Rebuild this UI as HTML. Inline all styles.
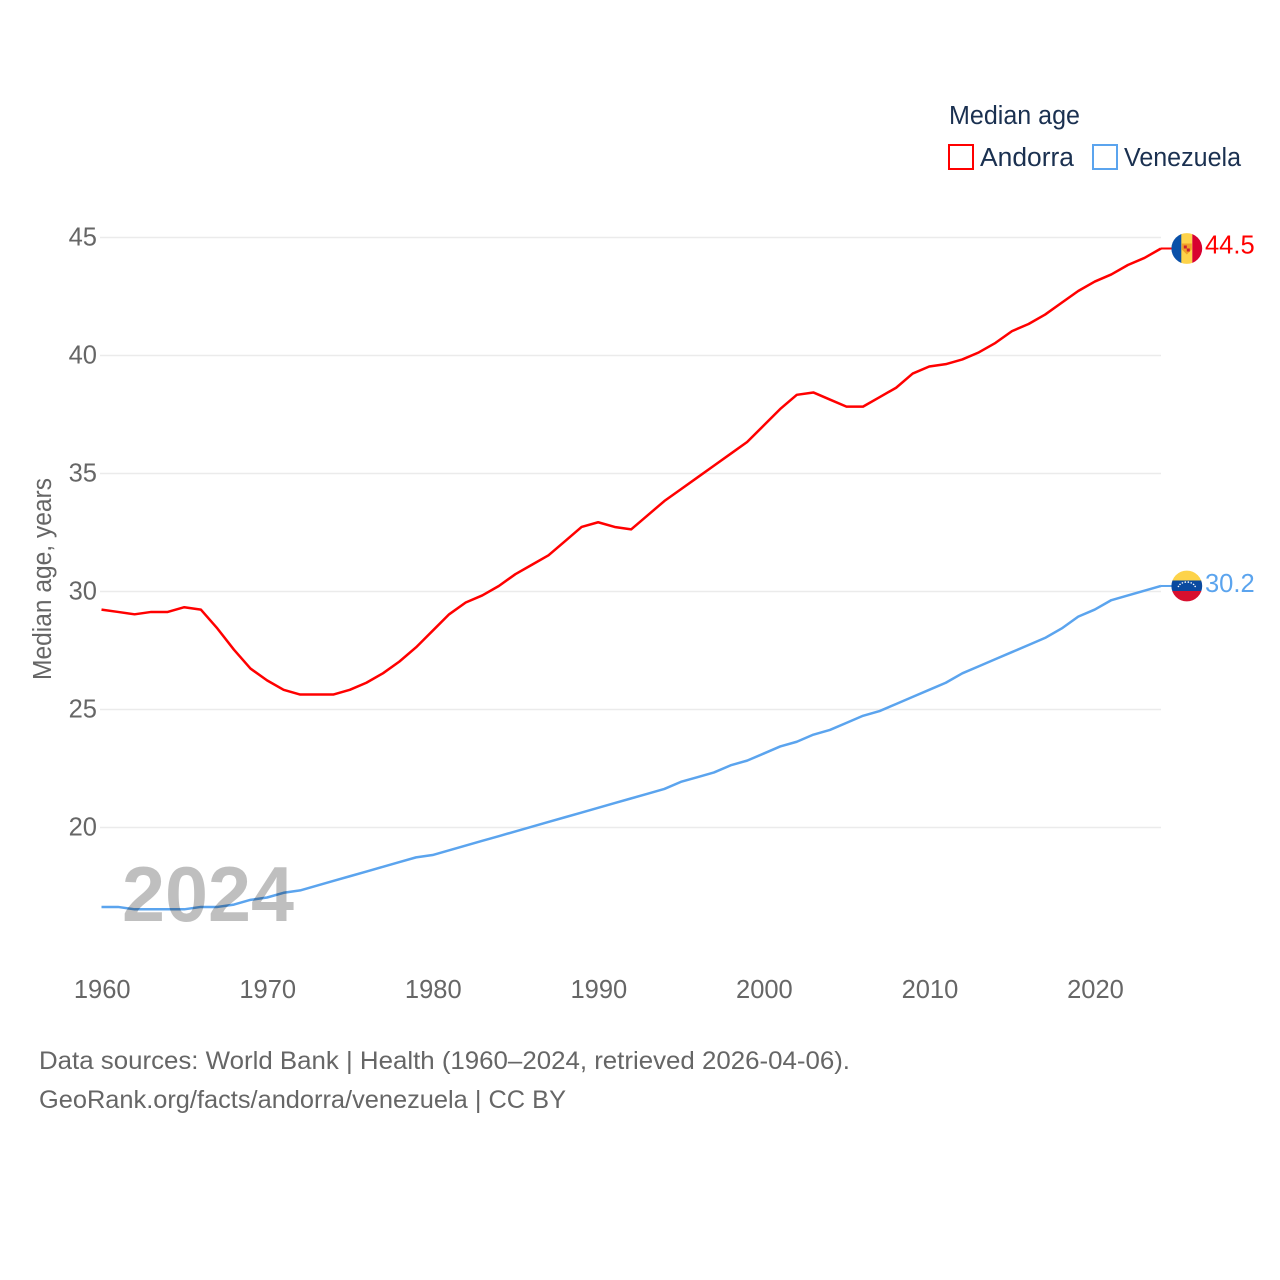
<!DOCTYPE html>
<html lang="en">
<head>
<meta charset="utf-8">
<title>Median age: Andorra and Venezuela</title>
<style>
html,body{margin:0;padding:0;background:#fff;}
svg{display:block;}
text{font-family:"Liberation Sans",sans-serif;}
.tick{font-size:25.5px;fill:#666;}
.foot{font-size:25px;fill:#666;}
.leg{font-size:25.5px;fill:#1a3050;}
</style>
</head>
<body>
<svg id="chart" xmlns="http://www.w3.org/2000/svg" width="1280" height="1280" viewBox="0 0 1280 1280">
  <defs>
    <clipPath id="clip-ad"><circle id="clip-ad-c" r="15.4"></circle></clipPath>
    <clipPath id="clip-ve"><circle id="clip-ve-c" r="15.4"></circle></clipPath>
  </defs>
  <g id="grid"></g>
  <g id="yticks"></g>
  <g id="xticks"></g>
  <text class="tick" transform="translate(51,680) rotate(-90)" textLength="202" lengthAdjust="spacingAndGlyphs">Median age, years</text>
  <g id="series"></g>
  <text x="122" y="921" font-size="78" font-weight="700" fill="#000" fill-opacity="0.25" textLength="172" lengthAdjust="spacingAndGlyphs">2024</text>

  <g id="flag-ad" clip-path="url(#clip-ad)"></g>
  <g id="flag-ve" clip-path="url(#clip-ve)"></g>
  <g id="end-labels"></g>

  <g>
    <text class="leg" x="949" y="124" textLength="131" lengthAdjust="spacingAndGlyphs">Median age</text>
    <rect x="949" y="145" width="24" height="24" fill="#fff" stroke="#ff0000" stroke-width="2"></rect>
    <text class="leg" x="980" y="166" textLength="94" lengthAdjust="spacingAndGlyphs">Andorra</text>
    <rect x="1093" y="145" width="24" height="24" fill="#fff" stroke="#5ba4ee" stroke-width="2"></rect>
    <text class="leg" x="1124" y="166" textLength="117" lengthAdjust="spacingAndGlyphs">Venezuela</text>
  </g>

  <text class="foot" x="39" y="1069" textLength="811" lengthAdjust="spacingAndGlyphs">Data sources: World Bank | Health (1960–2024, retrieved 2026-04-06).</text>
  <text class="foot" x="39" y="1108" textLength="527" lengthAdjust="spacingAndGlyphs">GeoRank.org/facts/andorra/venezuela | CC BY</text>
</svg>
<script>
const startYear = 1960;
const yTickValues = [20, 25, 30, 35, 40, 45];
const xTickValues = [1960, 1970, 1980, 1990, 2000, 2010, 2020];
const andorraValues = [29.2,29.1,29.0,29.1,29.1,29.3,29.2,28.4,27.5,26.7,26.2,25.8,25.6,25.6,25.6,25.8,26.1,26.5,27.0,27.6,28.3,29.0,29.5,29.8,30.2,30.7,31.1,31.5,32.1,32.7,32.9,32.7,32.6,33.2,33.8,34.3,34.8,35.3,35.8,36.3,37.0,37.7,38.3,38.4,38.1,37.8,37.8,38.2,38.6,39.2,39.5,39.6,39.8,40.1,40.5,41.0,41.3,41.7,42.2,42.7,43.1,43.4,43.8,44.1,44.5];
const venezuelaValues = [16.6,16.6,16.5,16.5,16.5,16.5,16.6,16.6,16.7,16.9,17.0,17.2,17.3,17.5,17.7,17.9,18.1,18.3,18.5,18.7,18.8,19.0,19.2,19.4,19.6,19.8,20.0,20.2,20.4,20.6,20.8,21.0,21.2,21.4,21.6,21.9,22.1,22.3,22.6,22.8,23.1,23.4,23.6,23.9,24.1,24.4,24.7,24.9,25.2,25.5,25.8,26.1,26.5,26.8,27.1,27.4,27.7,28.0,28.4,28.9,29.2,29.6,29.8,30.0,30.2];

const NS = 'http://www.w3.org/2000/svg';
function xScale(year) { return 101.5 + (year - 1960) * (1161 - 101.5) / 64; }
function gridY(v) { return 827.5 - (v - 20) * 23.6; }
function yScale(v) { return gridY(v) - 0.8; }
function make(tag, attrs, parent, text) {
  const el = document.createElementNS(NS, tag);
  for (const k in attrs) el.setAttribute(k, attrs[k]);
  if (text !== undefined) el.textContent = text;
  parent.appendChild(el);
  return el;
}

const grid = document.getElementById('grid');
const yt = document.getElementById('yticks');
yTickValues.forEach(function (v) {
  const line = make('line', {x1: 100, x2: 1161, y1: gridY(v), y2: gridY(v), stroke: '#ebebeb', 'stroke-width': 1.5}, grid);
  
  
  const t = make('text', {class: 'tick', x: 97, y: gridY(v) + 8, 'text-anchor': 'end'}, yt, String(v));
  
  
});

const xt = document.getElementById('xticks');
xTickValues.forEach(function (yr) {
  const t = make('text', {class: 'tick', x: xScale(yr) + 0.7, y: 998, 'text-anchor': 'middle'}, xt, String(yr));
  
  
});

function pathFor(values) {
  return values.map(function (v, i) {
    return (i ? 'L' : 'M') + xScale(startYear + i).toFixed(2) + ' ' + yScale(v).toFixed(2);
  }).join('');
}
const series = document.getElementById('series');
const lineAd = make('path', {d: pathFor(andorraValues), fill: 'none', stroke: '#ff0000', 'stroke-width': 2.5, 'stroke-linejoin': 'round'}, series);


const lineVe = make('path', {d: pathFor(venezuelaValues), fill: 'none', stroke: '#5ba4ee', 'stroke-width': 2.5, 'stroke-linejoin': 'round'}, series);



const lastAd = andorraValues[andorraValues.length - 1];
const lastVe = venezuelaValues[venezuelaValues.length - 1];
const flagX = 1186.8;
const adY = yScale(lastAd);
const veY = yScale(lastVe);
const extAd = make('line', {x1: 1161, x2: 1172, y1: adY, y2: adY, stroke: '#ff0000', 'stroke-width': 2}, series);


const extVe = make('line', {x1: 1161, x2: 1172, y1: veY, y2: veY, stroke: '#5ba4ee', 'stroke-width': 2}, series);



const cAd = document.getElementById('clip-ad-c');
cAd.setAttribute('cx', flagX);
cAd.setAttribute('cy', adY);
const cVe = document.getElementById('clip-ve-c');
cVe.setAttribute('cx', flagX);
cVe.setAttribute('cy', veY);

const fa = document.getElementById('flag-ad');
make('rect', {x: flagX - 16, y: adY - 16, width: 11, height: 32, fill: '#0a50a8'}, fa);
make('rect', {x: flagX - 5.5, y: adY - 16, width: 11, height: 32, fill: '#fed34a'}, fa);
make('rect', {x: flagX + 5.5, y: adY - 16, width: 11, height: 32, fill: '#d8002f'}, fa);
make('path', {d: 'M' + (flagX - 5) + ' ' + (adY - 5) + 'h10v6l-5 5l-5-5z', fill: '#f0a028'}, fa);
make('rect', {x: flagX - 3, y: adY - 3, width: 3, height: 3, fill: '#c8202f'}, fa);
make('rect', {x: flagX, y: adY, width: 3, height: 3, fill: '#c8202f'}, fa);

const fv = document.getElementById('flag-ve');
make('rect', {x: flagX - 16, y: veY - 16, width: 32, height: 11, fill: '#fdd34a'}, fv);
make('rect', {x: flagX - 16, y: veY - 5.5, width: 32, height: 11, fill: '#0a4aa0'}, fv);
make('rect', {x: flagX - 16, y: veY + 5, width: 32, height: 11, fill: '#d8102f'}, fv);
for (let i = 0; i < 8; i++) {
  const a = Math.PI * (0.12 + 0.76 * i / 7);
  make('circle', {cx: flagX - 9 * Math.cos(a), cy: veY + 3 - 7 * Math.sin(a), r: 0.8, fill: '#fff'}, fv);
}

const labels = document.getElementById('end-labels');
const la = make('text', {class: 'tick', x: 1205, y: adY + 5, style: 'fill:#ff0000'}, labels, lastAd.toFixed(1));


const lv = make('text', {class: 'tick', x: 1205, y: veY + 6, style: 'fill:#5ba4ee'}, labels, lastVe.toFixed(1));


</script>
</body>
</html>
